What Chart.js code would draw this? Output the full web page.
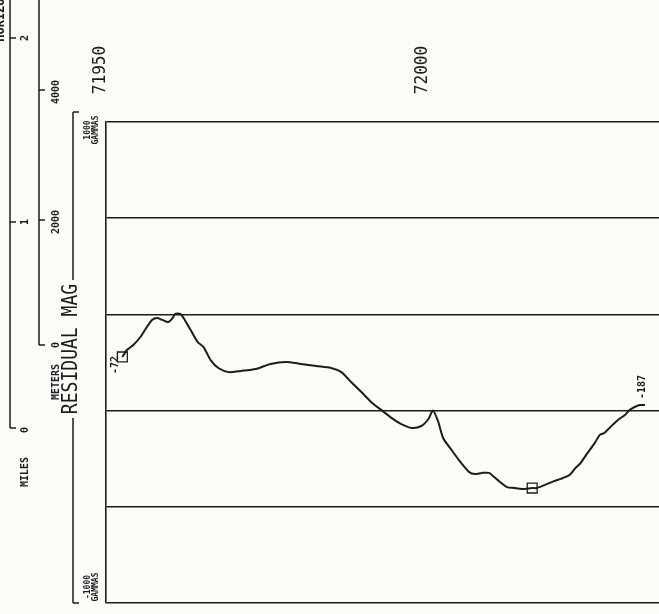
<!DOCTYPE html>
<html>
<head>
<meta charset="utf-8">
<script src="https://cdn.jsdelivr.net/npm/chart.js@4.4.0/dist/chart.umd.min.js"></script>
<style>
  body { margin: 0; background: #fbfbf8; overflow: hidden; }
  canvas { display: block; }
</style>
</head>
<body>
<canvas id="profile" width="670" height="614"></canvas>
<script>
// fiducial numbers along the track and residual magnetics (gammas)
const fiducial = [71953.4, 71954.1, 71955.1, 71956.2, 71956.9, 71958.0, 71958.8, 71959.6, 71960.5, 71961.2,
  71961.6, 71962.4, 71962.9, 71964.0, 71965.1, 71966.0, 71967.1, 71968.3, 71969.9, 71971.8,
  71974.1, 71976.4, 71978.8, 71981.1, 71983.5, 71985.8, 71987.4, 71988.9, 71990.5, 71992.0,
  71993.6, 71995.2, 71996.7, 71998.3, 71999.8, 72000.9, 72001.6, 72002.4, 72003.2, 72004.5,
  72005.6, 72007.2, 72008.1, 72009.2, 72010.3, 72011.1, 72012.0, 72013.1, 72014.2, 72015.4,
  72017.0, 72017.7, 72019.0, 72020.4, 72021.4, 72022.8, 72023.7, 72024.5, 72025.6, 72026.7,
  72027.5, 72028.2, 72029.0, 72030.3, 72031.4, 72032.1, 72032.9, 72033.7, 72034.5];
const residualMag = [23, 52, 73, 106, 135, 177, 185, 177, 168, 185,
  202, 202, 185, 135, 85, 64, 10, -23, -40, -35,
  -27, -6, 2, -6, -15, -23, -40, -81, -123, -164,
  -198, -231, -256, -272, -264, -235, -200, -245, -315, -364,
  -405, -455, -464, -459, -459, -476, -497, -518, -522, -526,
  -522, -522, -509, -493, -484, -468, -439, -418, -376, -335,
  -301, -293, -272, -239, -218, -198, -185, -177, -177];

const fiducialTicks = [71950, 72000];
const gammaLines = [-1000, -600, -200, 200, 600, 1000];
const markedPoints = [0, 50];
const endLabels = ['-72', '-187'];
const mileTicks = ['0', '1', '2'];
const meterTicks = ['0', '2000', '4000'];

const INK = '#1c1c1c';
const MONO = '"DejaVu Sans Mono", monospace';

function vtext(c, s, x, y, font, squeeze) {
  c.save();
  c.translate(x, y);
  c.rotate(-Math.PI / 2);
  if (squeeze) c.scale(squeeze, 1);
  c.font = font;
  c.textAlign = 'center';
  c.textBaseline = 'middle';
  c.fillText(s, 0, 0);
  c.restore();
}

function bar(c, x, y1, y2, stubs) {
  c.beginPath();
  c.moveTo(x, y1);
  c.lineTo(x, y2);
  stubs.forEach(y => { c.moveTo(x, y); c.lineTo(x + 6, y); });
  c.stroke();
}

const paper = {
  id: 'paper',
  beforeDraw(chart) {
    const c = chart.ctx;
    c.save();
    c.fillStyle = '#fbfbf8';
    c.fillRect(0, 0, chart.width, chart.height);
    c.restore();
  }
};

const decor = {
  id: 'decor',
  afterDraw(chart) {
    const c = chart.ctx;
    const xs = chart.scales.x;
    c.save();
    c.fillStyle = INK;
    c.strokeStyle = INK;
    c.lineWidth = 1.5;

    // fiducial labels above the profile
    fiducialTicks.forEach(v => vtext(c, String(v), xs.getPixelForValue(v), 70, '17px ' + MONO, 0.95));

    // horizontal scale bars
    vtext(c, 'HORIZONTAL SCALE', 1, -16, 'bold 12px ' + MONO);
    bar(c, 10, 0, 428, [428, 222, 38]);
    vtext(c, mileTicks[0], 25, 430, 'bold 10px ' + MONO);
    vtext(c, mileTicks[1], 25, 222, 'bold 10px ' + MONO);
    vtext(c, mileTicks[2], 25, 38, 'bold 10px ' + MONO);
    vtext(c, 'MILES', 25, 472, 'bold 10px ' + MONO);

    bar(c, 39, 0, 345, [345, 220, 90]);
    vtext(c, meterTicks[0], 56, 345, 'bold 10px ' + MONO);
    vtext(c, meterTicks[1], 56, 222, 'bold 10px ' + MONO);
    vtext(c, meterTicks[2], 56, 92, 'bold 10px ' + MONO);
    vtext(c, 'METERS', 56, 382, 'bold 10px ' + MONO);

    // axis title with its bracket
    bar(c, 73, 112, 280, [112]);
    bar(c, 73, 418, 603, [603]);
    vtext(c, 'RESIDUAL MAG', 72, 349, '21px ' + MONO, 0.86);
    vtext(c, '1000', 88, 130, 'bold 8px ' + MONO);
    vtext(c, 'GAMMAS', 96, 130, 'bold 8px ' + MONO);
    vtext(c, '-1000', 88, 587, 'bold 8px ' + MONO);
    vtext(c, 'GAMMAS', 96, 587, 'bold 8px ' + MONO);

    // readings at the ends of the profile
    const pts = chart.getDatasetMeta(0).data;
    const first = pts[0], last = pts[pts.length - 1];
    vtext(c, endLabels[0], first.x - 7, first.y + 8, 'bold 10px ' + MONO);
    vtext(c, endLabels[1], last.x - 3, last.y - 18, 'bold 10px ' + MONO);
    c.restore();
  }
};

new Chart(document.getElementById('profile'), {
  type: 'line',
  data: {
    datasets: [{
      data: fiducial.map((f, i) => ({ x: f, y: residualMag[i] })),
      borderColor: INK,
      borderWidth: 2,
      tension: 0.25,
      pointStyle: 'rect',
      pointRadius: ctx => markedPoints.includes(ctx.dataIndex) ? 7 : 0,
      pointBorderWidth: 1.3,
      pointBorderColor: INK,
      pointBackgroundColor: 'rgba(0,0,0,0)'
    }]
  },
  options: {
    responsive: false,
    animation: false,
    layout: { padding: { left: 0, right: 0, top: 0, bottom: 11 } },
    plugins: { legend: { display: false }, tooltip: { enabled: false } },
    scales: {
      x: {
        type: 'linear',
        position: 'top',
        min: 71950.86,
        max: 72037.1,
        grid: { display: false, drawTicks: false },
        border: { display: false },
        ticks: { display: false },
        afterFit: s => { s.height = 122; }
      },
      y: {
        min: -1000,
        max: 1000,
        afterBuildTicks: s => { s.ticks = gammaLines.map(v => ({ value: v })); },
        grid: { color: INK, lineWidth: 1.6, drawTicks: false },
        border: { display: true, color: INK, width: 1.6 },
        ticks: { display: false },
        afterFit: s => { s.width = 106; }
      }
    }
  },
  plugins: [paper, decor]
});
</script>
</body>
</html>
